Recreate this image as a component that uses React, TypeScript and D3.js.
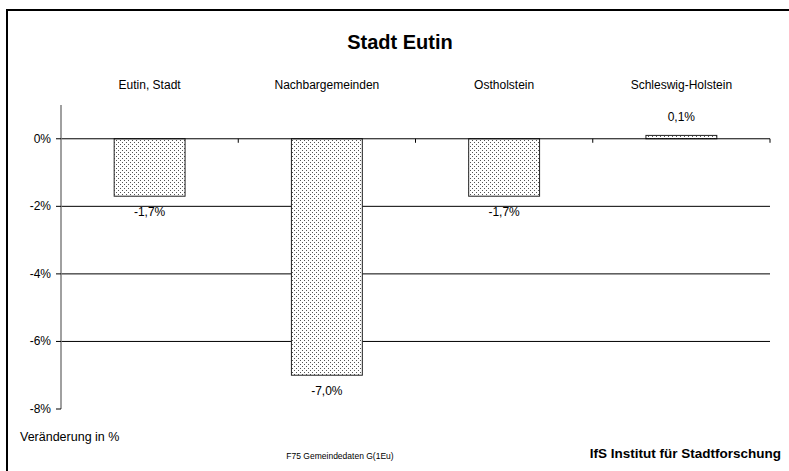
import { useMemo } from "react";
import * as d3 from "d3";

const WIDTH = 789;
const HEIGHT = 471;
const PLOT = { left: 61, right: 770, top: 105, bottom: 409 };

const categories = ["Eutin, Stadt", "Nachbargemeinden", "Ostholstein", "Schleswig-Holstein"];
const values = [-1.7, -7.0, -1.7, 0.1];
const valueLabels = ["-1,7%", "-7,0%", "-1,7%", "0,1%"];
const yTicks = [0, -2, -4, -6, -8];
const yTickLabels = ["0%", "-2%", "-4%", "-6%", "-8%"];

const FONT = "'Liberation Sans', Arial, sans-serif";

export default function App() {
  const x = useMemo(
    () => d3.scaleBand<string>().domain(categories).range([PLOT.left, PLOT.right]).padding(0),
    []
  );
  const y = useMemo(
    () => d3.scaleLinear().domain([-8, 1]).range([PLOT.bottom, PLOT.top]),
    []
  );
  const bw = x.bandwidth();
  const barW = bw * 0.4;
  const y0 = y(0);

  return (
    <svg
      width={WIDTH}
      height={HEIGHT}
      style={{ position: "fixed", left: 0, top: 0, background: "#fff" }}
      fontFamily={FONT}
    >
      <defs>
        <pattern id="dots" width={4} height={4} patternUnits="userSpaceOnUse">
          <rect width={4} height={4} fill="#fff" />
          <rect x={0} y={0} width={1} height={1} fill="#555" />
          <rect x={2} y={2} width={1} height={1} fill="#555" />
        </pattern>
      </defs>

      {/* outer frame, right/bottom edges fall outside the picture */}
      <rect x={7} y={10} width={820} height={500} fill="none" stroke="#000" strokeWidth={2} />

      <text x={400} y={49} textAnchor="middle" fontSize={20} fontWeight="bold">
        Stadt Eutin
      </text>

      {/* category names above the plot */}
      {categories.map((c) => (
        <text key={c} x={x(c)! + bw / 2} y={89} textAnchor="middle" fontSize={12}>
          {c}
        </text>
      ))}

      {/* gridlines */}
      {yTicks
        .filter((t) => t !== 0 && t !== -8)
        .map((t) => (
          <line key={t} x1={PLOT.left} x2={PLOT.right} y1={y(t)} y2={y(t)} stroke="#000" strokeWidth={1} />
        ))}

      {/* bars */}
      {categories.map((c, i) => {
        const v = values[i];
        const top = Math.min(y(v), y0);
        const h = Math.abs(y(v) - y0);
        const bx = x(c)! + (bw - barW) / 2;
        return (
          <g key={c}>
            <rect x={bx} y={top} width={barW} height={h} fill="url(#dots)" stroke="#222" strokeWidth={1} />
            <text
              x={bx + barW / 2}
              y={v < 0 ? y(v) + 20 : y(v) - 14}
              textAnchor="middle"
              fontSize={12}
            >
              {valueLabels[i]}
            </text>
          </g>
        );
      })}

      {/* zero axis with category ticks */}
      <line x1={PLOT.left} x2={PLOT.right} y1={y0} y2={y0} stroke="#000" strokeWidth={1} />
      {categories.map((c) => (
        <line key={c} x1={x(c)! + bw} x2={x(c)! + bw} y1={y0} y2={y0 + 4} stroke="#000" />
      ))}

      {/* y axis */}
      <line x1={PLOT.left} x2={PLOT.left} y1={PLOT.top} y2={PLOT.bottom} stroke="#808080" strokeWidth={1.5} />
      {yTicks.map((t, i) => (
        <g key={t}>
          <line x1={PLOT.left - 5} x2={PLOT.left} y1={y(t)} y2={y(t)} stroke="#000" />
          <text x={51} y={y(t) + 4} textAnchor="end" fontSize={12}>
            {yTickLabels[i]}
          </text>
        </g>
      ))}

      <text x={20} y={441} fontSize={12.5}>
        Veränderung in %
      </text>
      <text x={340} y={459} textAnchor="middle" fontSize={8.5}>
        F75 Gemeindedaten  G(1Eu)
      </text>
      <text x={781} y={458} textAnchor="end" fontSize={13.5} fontWeight="bold">
        IfS Institut für Stadtforschung
      </text>
    </svg>
  );
}
